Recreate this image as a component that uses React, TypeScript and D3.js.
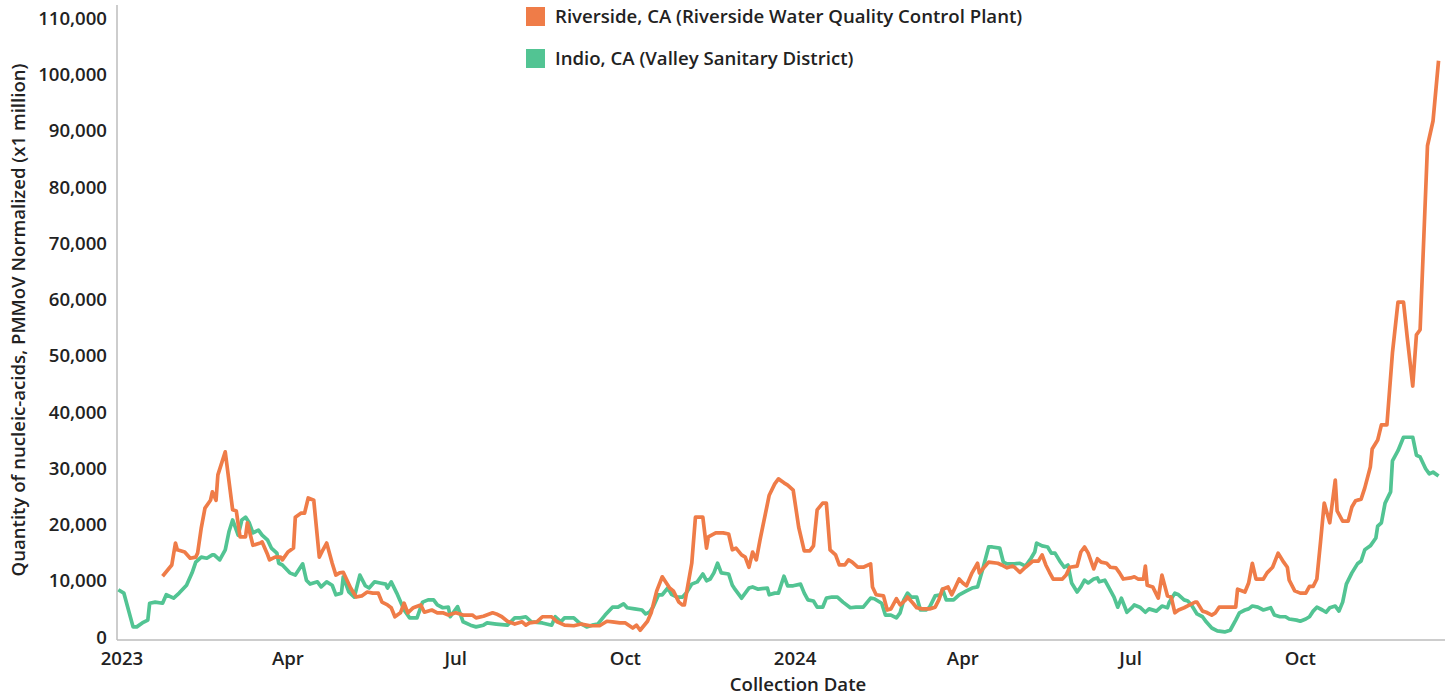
import * as React from "react";
import * as d3 from "d3";

// day offsets are counted from 2023-01-01
const riversideDays = [22,27,29,30,34,37,40,41,43,45,48,49,51,52,56,60,62,64,67,68,71,75,76,79,80,83,86,87,90,93,94,97,99,101,104,107,109,111,114,116,118,120,124,127,130,133,136,139,141,144,146,148,151,153,155,158,162,164,168,171,174,177,181,185,190,192,196,201,203,206,209,213,217,219,221,225,228,233,236,240,245,249,254,259,263,266,270,273,277,279,281,285,287,290,293,297,299,302,304,305,309,311,315,317,318,322,326,329,331,333,336,338,340,342,344,346,349,351,354,356,359,361,364,367,370,373,375,377,380,382,384,387,389,392,394,396,399,402,406,407,409,413,415,417,420,422,425,426,429,431,434,438,441,443,445,448,450,452,454,456,458,461,464,465,470,475,477,480,483,484,487,490,494,497,499,501,503,505,510,512,514,518,520,522,524,527,529,531,534,536,539,541,543,547,549,551,554,555,556,559,562,564,567,569,571,573,576,579,582,583,586,588,591,593,595,598,601,604,605,609,611,613,615,619,621,624,627,630,632,633,636,639,642,644,646,648,650,652,655,658,659,662,665,667,669,672,674,677,678,681,683,686,689,692,695,697,700,702,704,708,711,714];
const riversideValues = [10800,12800,16700,15500,15100,14000,14200,14900,19400,22900,24300,25800,24300,28800,32900,22600,22400,17800,17800,20300,16300,16700,16900,14600,13700,14200,14200,13700,15100,15800,21300,22000,22000,24700,24300,14200,15500,16700,13100,11000,11400,11500,8700,7100,7300,8000,7800,7800,6200,5700,5200,3600,4300,6000,4300,5200,5700,4400,4800,4300,4300,3900,4300,3900,3900,3400,3700,4300,4100,3600,2800,2300,2700,2100,2500,2700,3600,3600,2700,2100,2000,2300,2000,2000,2800,2700,2500,2500,1600,2100,1200,2800,4300,8200,10700,8700,8200,6200,5700,5700,13100,21300,21300,15800,17800,18500,18500,18300,15500,15800,14600,14200,12400,15100,13700,17200,22000,25200,27200,28100,27400,27000,26100,19500,15300,15300,16200,22600,23800,23800,15500,14600,12800,12800,13700,13300,12400,12400,13000,8900,7500,7300,4800,5000,6800,5700,6600,7100,6000,5200,5000,5000,5300,6600,8500,8900,7500,8900,10300,9600,9100,11400,13100,11400,13300,13100,12800,12300,12600,12400,11500,12400,13500,13500,14600,12800,11500,10300,10300,11000,12400,12600,15100,16000,14900,12100,13900,13300,13100,12400,12300,11400,10300,10500,10700,10300,10300,12600,9200,8900,6900,11000,7300,7100,4300,4800,5200,5700,6200,6200,4600,4400,3900,4300,5300,5300,5300,5300,8500,8000,9600,13100,10300,10300,11400,12400,14900,13300,12400,10100,8200,7800,7800,9000,9000,10300,16900,23800,20300,27900,22400,20600,20600,23100,24200,24500,26500,30200,33400,35000,37700,37700,50500,59500,59500,53300,44600,53700,54600,87300,91700,102400];

const indioDays = [-2,1,6,8,11,14,15,18,22,24,28,31,35,38,40,43,46,49,50,53,56,58,60,63,65,67,69,71,74,76,79,81,84,85,87,91,94,98,100,102,106,108,111,114,116,119,120,123,126,129,132,134,137,140,143,144,146,149,153,156,160,163,166,169,171,174,177,178,182,185,189,192,196,198,203,209,213,216,219,222,228,233,235,238,240,245,248,252,255,258,262,266,269,272,274,278,282,284,286,288,291,293,296,298,301,304,306,309,312,315,317,319,321,323,325,329,331,332,336,338,340,342,345,350,351,354,356,359,361,364,368,370,372,375,377,380,382,385,388,391,395,398,402,406,408,412,414,417,420,422,424,426,428,431,433,436,438,441,444,445,447,451,454,458,461,464,467,470,472,476,478,480,484,487,490,493,495,496,499,502,504,506,509,511,513,515,518,520,522,524,527,529,530,533,535,538,540,542,545,548,549,552,555,557,561,564,567,568,571,573,576,578,580,583,586,588,591,594,598,601,604,606,609,611,613,616,619,623,625,628,631,633,637,639,642,644,646,648,651,653,655,658,660,662,664,667,670,672,674,677,680,681,683,685,688,689,692,695,698,700,702,704,707,709,711,714];
const indioValues = [8400,7800,1800,1800,2500,3000,6000,6200,6000,7500,6900,7800,9200,11400,13300,14200,14000,14600,14600,13700,15500,18700,20800,18100,20800,21300,20300,18500,19000,18100,17200,15800,14900,13100,12800,11400,11000,13000,10100,9400,9800,8900,9800,9200,7500,7800,10700,8000,7100,11000,9100,8700,9800,9600,9400,8700,9800,7800,4800,3400,3400,6200,6600,6600,5700,5200,5300,3600,5400,2700,2100,1800,2100,2500,2300,2100,3400,3400,3600,2700,2500,2100,3600,2700,3400,3400,2500,1800,2100,2300,3900,5300,5300,5900,5200,5000,4800,4100,4400,5300,7500,7500,8700,7600,7100,7100,7800,9400,9800,11200,10000,10300,11400,13100,11400,11200,9200,8700,6900,7800,8700,8900,8500,8700,7500,7800,7800,10800,9100,9100,9400,7800,6600,6400,5300,5300,6900,7100,7100,6200,5200,5300,5300,6900,6800,6000,3900,3900,3400,4300,6600,7800,7100,7100,4800,4800,5300,7300,7500,8500,6600,6600,7500,8200,8700,8900,12300,16000,16000,15800,13300,13000,13000,13100,12600,14000,15100,16700,16200,16000,14900,14900,13300,12400,12800,9600,8000,8900,10100,9600,10300,10500,9800,10100,8900,7100,5300,6900,4400,5300,5700,5300,4400,5000,4600,5500,5200,6200,7800,7500,6600,6400,5700,4100,3600,2700,1600,1100,900,1200,3000,4300,4800,5000,5500,5300,4800,5200,3900,3600,3600,3200,3000,2800,3200,3600,4600,5300,4800,4400,5200,5500,4600,6200,9400,11400,13000,13500,15500,16200,17600,19700,20300,23800,25800,31300,33100,35500,35500,35500,32300,32000,29900,29000,29300,28600];

const seriesNames = [
  "Riverside, CA (Riverside Water Quality Control Plant)",
  "Indio, CA (Valley Sanitary District)",
];
const seriesColors = ["#ef7c48", "#52c493"];

const xTickDates = ["2023-01-01", "2023-04-01", "2023-07-01", "2023-10-01", "2024-01-01", "2024-04-01", "2024-07-01", "2024-10-01"];
const xTickLabels = ["2023", "Apr", "Jul", "Oct", "2024", "Apr", "Jul", "Oct"];
const yTicks = [0, 10000, 20000, 30000, 40000, 50000, 60000, 70000, 80000, 90000, 100000, 110000];

const W = 1452;
const H = 697;
const FONT = "'Open Sans', sans-serif";
const TEXT = "#222";
const FS = 18.6;

const dayToDate = (d: number) => new Date(2023, 0, 1 + d);
const parseDay = (s: string) => {
  const [y, m, d] = s.split("-").map(Number);
  return new Date(y, m - 1, d);
};

export default function App() {
  const x = d3
    .scaleTime()
    .domain([new Date(2022, 11, 29, 7), new Date(2024, 11, 18, 12)])
    .range([117, 1445]);
  const y = d3.scaleLinear().domain([0, 110000]).range([637, 18]);

  const line = d3
    .line<[number, number]>()
    .x((p) => x(dayToDate(p[0])))
    .y((p) => y(p[1]));

  const riverside = riversideDays.map((d, i) => [d, riversideValues[i]] as [number, number]);
  const indio = indioDays.map((d, i) => [d, indioValues[i]] as [number, number]);
  const fmt = d3.format(",");

  return (
    <svg width={W} height={H} style={{ position: "absolute", left: 0, top: 0, background: "#fff" }} fontFamily={FONT}>
      {/* axes */}
      <line x1={117} x2={117} y1={5} y2={640} stroke="#bdbdbd" strokeWidth={1.5} />
      <line x1={117} x2={1445} y1={640} y2={640} stroke="#bdbdbd" strokeWidth={1.5} />

      {yTicks.map((t) => (
        <text key={t} x={107} y={y(t)} dy="0.36em" textAnchor="end" fontSize={FS} fontWeight={600} fill={TEXT}>
          {fmt(t)}
        </text>
      ))}
      {xTickDates.map((d, i) => (
        <text key={d} x={x(parseDay(d))} y={665} textAnchor="middle" fontSize={FS} fontWeight={600} fill={TEXT}>
          {xTickLabels[i]}
        </text>
      ))}
      <text x={798} y={691} textAnchor="middle" fontSize={FS} fontWeight={600} fill={TEXT}>
        Collection Date
      </text>
      <text transform="translate(25,320) rotate(-90)" textAnchor="middle" fontSize={FS} fontWeight={600} fill={TEXT}>
        Quantity of nucleic-acids, PMMoV Normalized (x1 million)
      </text>

      {/* lines */}
      <path d={line(indio) || ""} fill="none" stroke={seriesColors[1]} strokeWidth={3.7} strokeLinejoin="round" />
      <path d={line(riverside) || ""} fill="none" stroke={seriesColors[0]} strokeWidth={3.7} strokeLinejoin="round" />

      {/* legend */}
      {seriesNames.map((n, i) => (
        <g key={n} transform={`translate(526,${7 + i * 42})`}>
          <rect width={19} height={19} fill={seriesColors[i]} />
          <text x={29} y={9.5} dy="0.36em" fontSize={FS} fontWeight={600} fill={TEXT}>
            {n}
          </text>
        </g>
      ))}
    </svg>
  );
}
